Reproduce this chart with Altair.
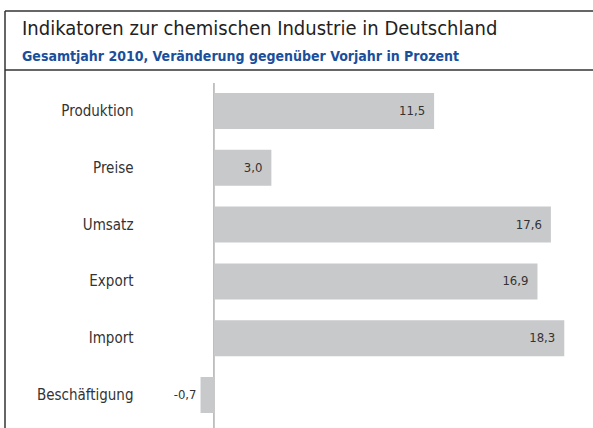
import altair as alt
import pandas as pd

categories = ["Produktion", "Preise", "Umsatz", "Export", "Import", "Beschäftigung"]
values = [11.5, 3.0, 17.6, 16.9, 18.3, -0.7]
labels = ["11,5", "3,0", "17,6", "16,9", "18,3", "-0,7"]

title_text = "Indikatoren zur chemischen Industrie in Deutschland"
subtitle_text = "Gesamtjahr 2010, Veränderung gegenüber Vorjahr in Prozent"

df = pd.DataFrame({"cat": categories, "val": values, "lab": labels})

FONT = "DejaVu Sans Condensed, sans-serif"

W, H = 403, 340
LEFT, TOP = 190, 83
XDOM = [-1.25, 19.8]

x = alt.X("val:Q", scale=alt.Scale(domain=XDOM, nice=False, zero=False), axis=None)
y = alt.Y("cat:N", sort=categories,
          scale=alt.Scale(paddingInner=0.366, paddingOuter=0.176),
          axis=alt.Axis(title=None, ticks=False, domain=False, labelPadding=57,
                        labelFont=FONT, labelFontSize=15, labelColor="#333333",
                        labelAlign="right"))

base = alt.Chart(df)

bars = base.mark_bar(color="#c8c9cb").encode(x=x, x2=alt.datum(0), y=y)

pos_text = base.transform_filter("datum.val >= 0").mark_text(
    align="right", baseline="middle", dx=-9, font=FONT, fontSize=13, color="#333333"
).encode(x=x, y=y, text="lab:N")

neg_text = base.transform_filter("datum.val < 0").mark_text(
    align="right", baseline="middle", dx=-4, font=FONT, fontSize=13, color="#333333"
).encode(x=x, y=y, text="lab:N")

zero_rule = alt.Chart(pd.DataFrame({"z": [0]})).mark_rule(color="#b0b0b0", strokeWidth=1.5).encode(
    x=alt.X("z:Q", scale=alt.Scale(domain=XDOM, nice=False, zero=False), axis=None),
    y=alt.value(0), y2=alt.value(H + 10)
)

frame_df = pd.DataFrame({"k": [0]})
top_line = alt.Chart(frame_df).mark_rule(color="#333333", strokeWidth=1.5).encode(
    x=alt.value(5 - LEFT), x2=alt.value(W + 5), y=alt.value(11 - TOP))
div_line = alt.Chart(frame_df).mark_rule(color="#333333", strokeWidth=1.5).encode(
    x=alt.value(5 - LEFT), x2=alt.value(W + 5), y=alt.value(70 - TOP))
left_line = alt.Chart(frame_df).mark_rule(color="#333333", strokeWidth=1.5).encode(
    x=alt.value(5 - LEFT), y=alt.value(11 - TOP), y2=alt.value(H + 10))

title = alt.Chart(frame_df).mark_text(
    align="left", baseline="alphabetic", font=FONT,
    fontSize=20, color="#222222"
).encode(x=alt.value(22 - LEFT), y=alt.value(35 - TOP), text=alt.value(title_text))

subtitle = alt.Chart(frame_df).mark_text(
    align="left", baseline="alphabetic", font=FONT, fontSize=14, fontWeight="bold", color="#1a4f9c"
).encode(x=alt.value(22 - LEFT), y=alt.value(61 - TOP), text=alt.value(subtitle_text))

chart = alt.layer(
    zero_rule, bars, pos_text, neg_text, top_line, div_line, left_line, title, subtitle
).properties(
    width=W, height=H,
    autosize=alt.AutoSizeParams(type="none"),
    padding={"left": LEFT, "top": TOP, "right": 0, "bottom": 5},
    background="white",
).configure_view(stroke=None)

chart.save("out.html", embed_options={"renderer": "svg", "actions": False})
